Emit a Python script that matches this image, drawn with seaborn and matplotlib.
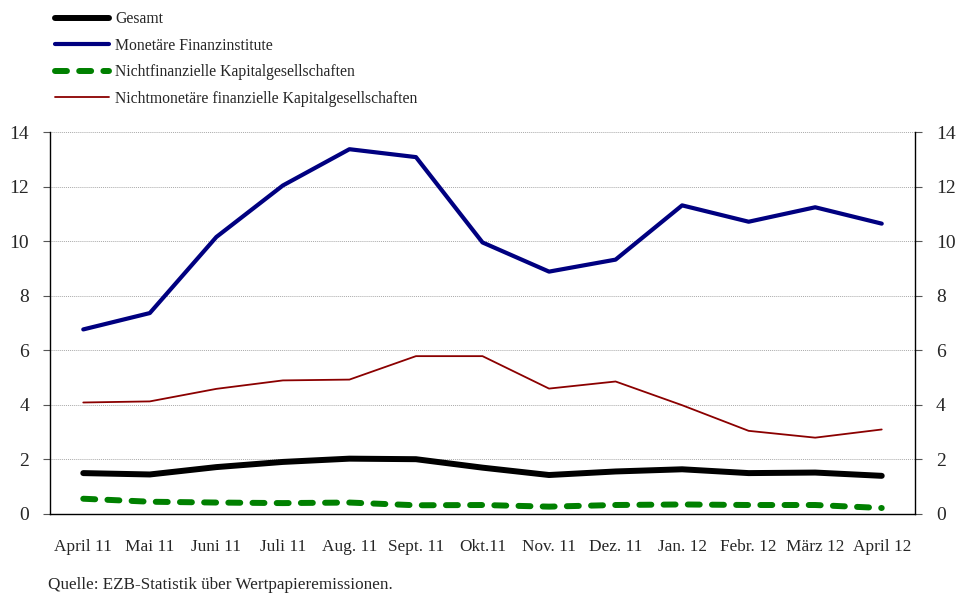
import matplotlib
matplotlib.use('Agg')
import matplotlib.pyplot as plt
import seaborn as sns
import numpy as np
import pandas as pd

# Monthly values (percent)
months = ['April 11', 'Mai 11', 'Juni 11', 'Juli 11', 'Aug. 11', 'Sept. 11', 'Okt.11',
          'Nov. 11', 'Dez. 11', 'Jan. 12', 'Febr. 12', 'März 12', 'April 12']
gesamt = [1.50, 1.45, 1.72, 1.91, 2.03, 2.01, 1.70, 1.43, 1.56, 1.64, 1.50, 1.52, 1.40]
mfi = [6.77, 7.37, 10.16, 12.05, 13.38, 13.09, 9.96, 8.89, 9.33, 11.32, 10.72, 11.25, 10.65]
nfc = [0.56, 0.45, 0.42, 0.40, 0.42, 0.32, 0.33, 0.27, 0.33, 0.35, 0.33, 0.33, 0.22]
ofi = [4.09, 4.13, 4.59, 4.90, 4.93, 5.79, 5.79, 4.60, 4.86, 3.99, 3.05, 2.80, 3.10]

series_names = ['Gesamt', 'Monetäre Finanzinstitute',
                'Nichtfinanzielle Kapitalgesellschaften',
                'Nichtmonetäre finanzielle Kapitalgesellschaften']

sns.set_style('white')
plt.rcParams['font.family'] = ['Liberation Serif', 'DejaVu Serif']

fig = plt.figure(figsize=(9.66, 5.94), dpi=100)
ax = fig.add_axes([50 / 966, 1 - 514 / 594, 865 / 966, (514 - 132.3) / 594])

x = np.arange(len(months))
styles = [
    (gesamt, 'black', 4.3),
    (mfi, '#000080', 3.0),
    (nfc, '#008000', 4.3),
    (ofi, '#8B0000', 1.3),
]
handles = []
for vals, col, lw in styles:
    sns.lineplot(x=x, y=vals, color=col, linewidth=lw, ax=ax)
    ln = ax.lines[-1]
    ln.set_solid_capstyle('round')
    ln.set_solid_joinstyle('round')
    handles.append(ln)

# dashed green line
green = handles[2]
green.set_dashes((2.0, 2.05))
green.set_dash_capstyle('round')
green.set_zorder(1.5)

ax.set_xlim(-0.5, len(months) - 0.5)
ax.set_ylim(0, 14)
ax.set_yticks(np.arange(0, 15, 2))
ax.yaxis.grid(True, linestyle=(0, (1, 1)), color='#aaaaaa', linewidth=0.7)
ax.set_axisbelow(True)

# category boundaries as major ticks, labels at centers
ax.set_xticks(np.arange(-0.5, len(months), 1.0))
ax.set_xticklabels([])
ax.set_xticks(x, minor=True)
ax.set_xticklabels(months, minor=True, fontsize=12.4)
ax.tick_params(axis='x', which='major', direction='out', length=5, width=0.8, color='#555555')
ax.tick_params(axis='x', which='minor', length=0, pad=18)
ax.tick_params(axis='y', direction='out', length=5, width=0.8, color='#555555',
               labelsize=14, left=True, right=True, labelleft=True, labelright=True, pad=10)

for side in ['left', 'bottom', 'right']:
    ax.spines[side].set_visible(True)
    ax.spines[side].set_color('black')
    ax.spines[side].set_linewidth(1.0)
ax.spines['top'].set_visible(False)
ax.set_xlabel('')
ax.set_ylabel('')

fig.legend(handles, series_names, loc='upper left', bbox_to_anchor=(49 / 966, 1 - 5 / 594),
           frameon=False, fontsize=11.3, handlelength=3.4, labelspacing=0.67,
           handletextpad=0.42, borderaxespad=0)

fig.text(48 / 966, 1 - 585 / 594, 'Quelle: EZB-Statistik über Wertpapieremissionen.',
         fontsize=12.3, va='center', ha='left')

fig.savefig('out.png', dpi=100)
